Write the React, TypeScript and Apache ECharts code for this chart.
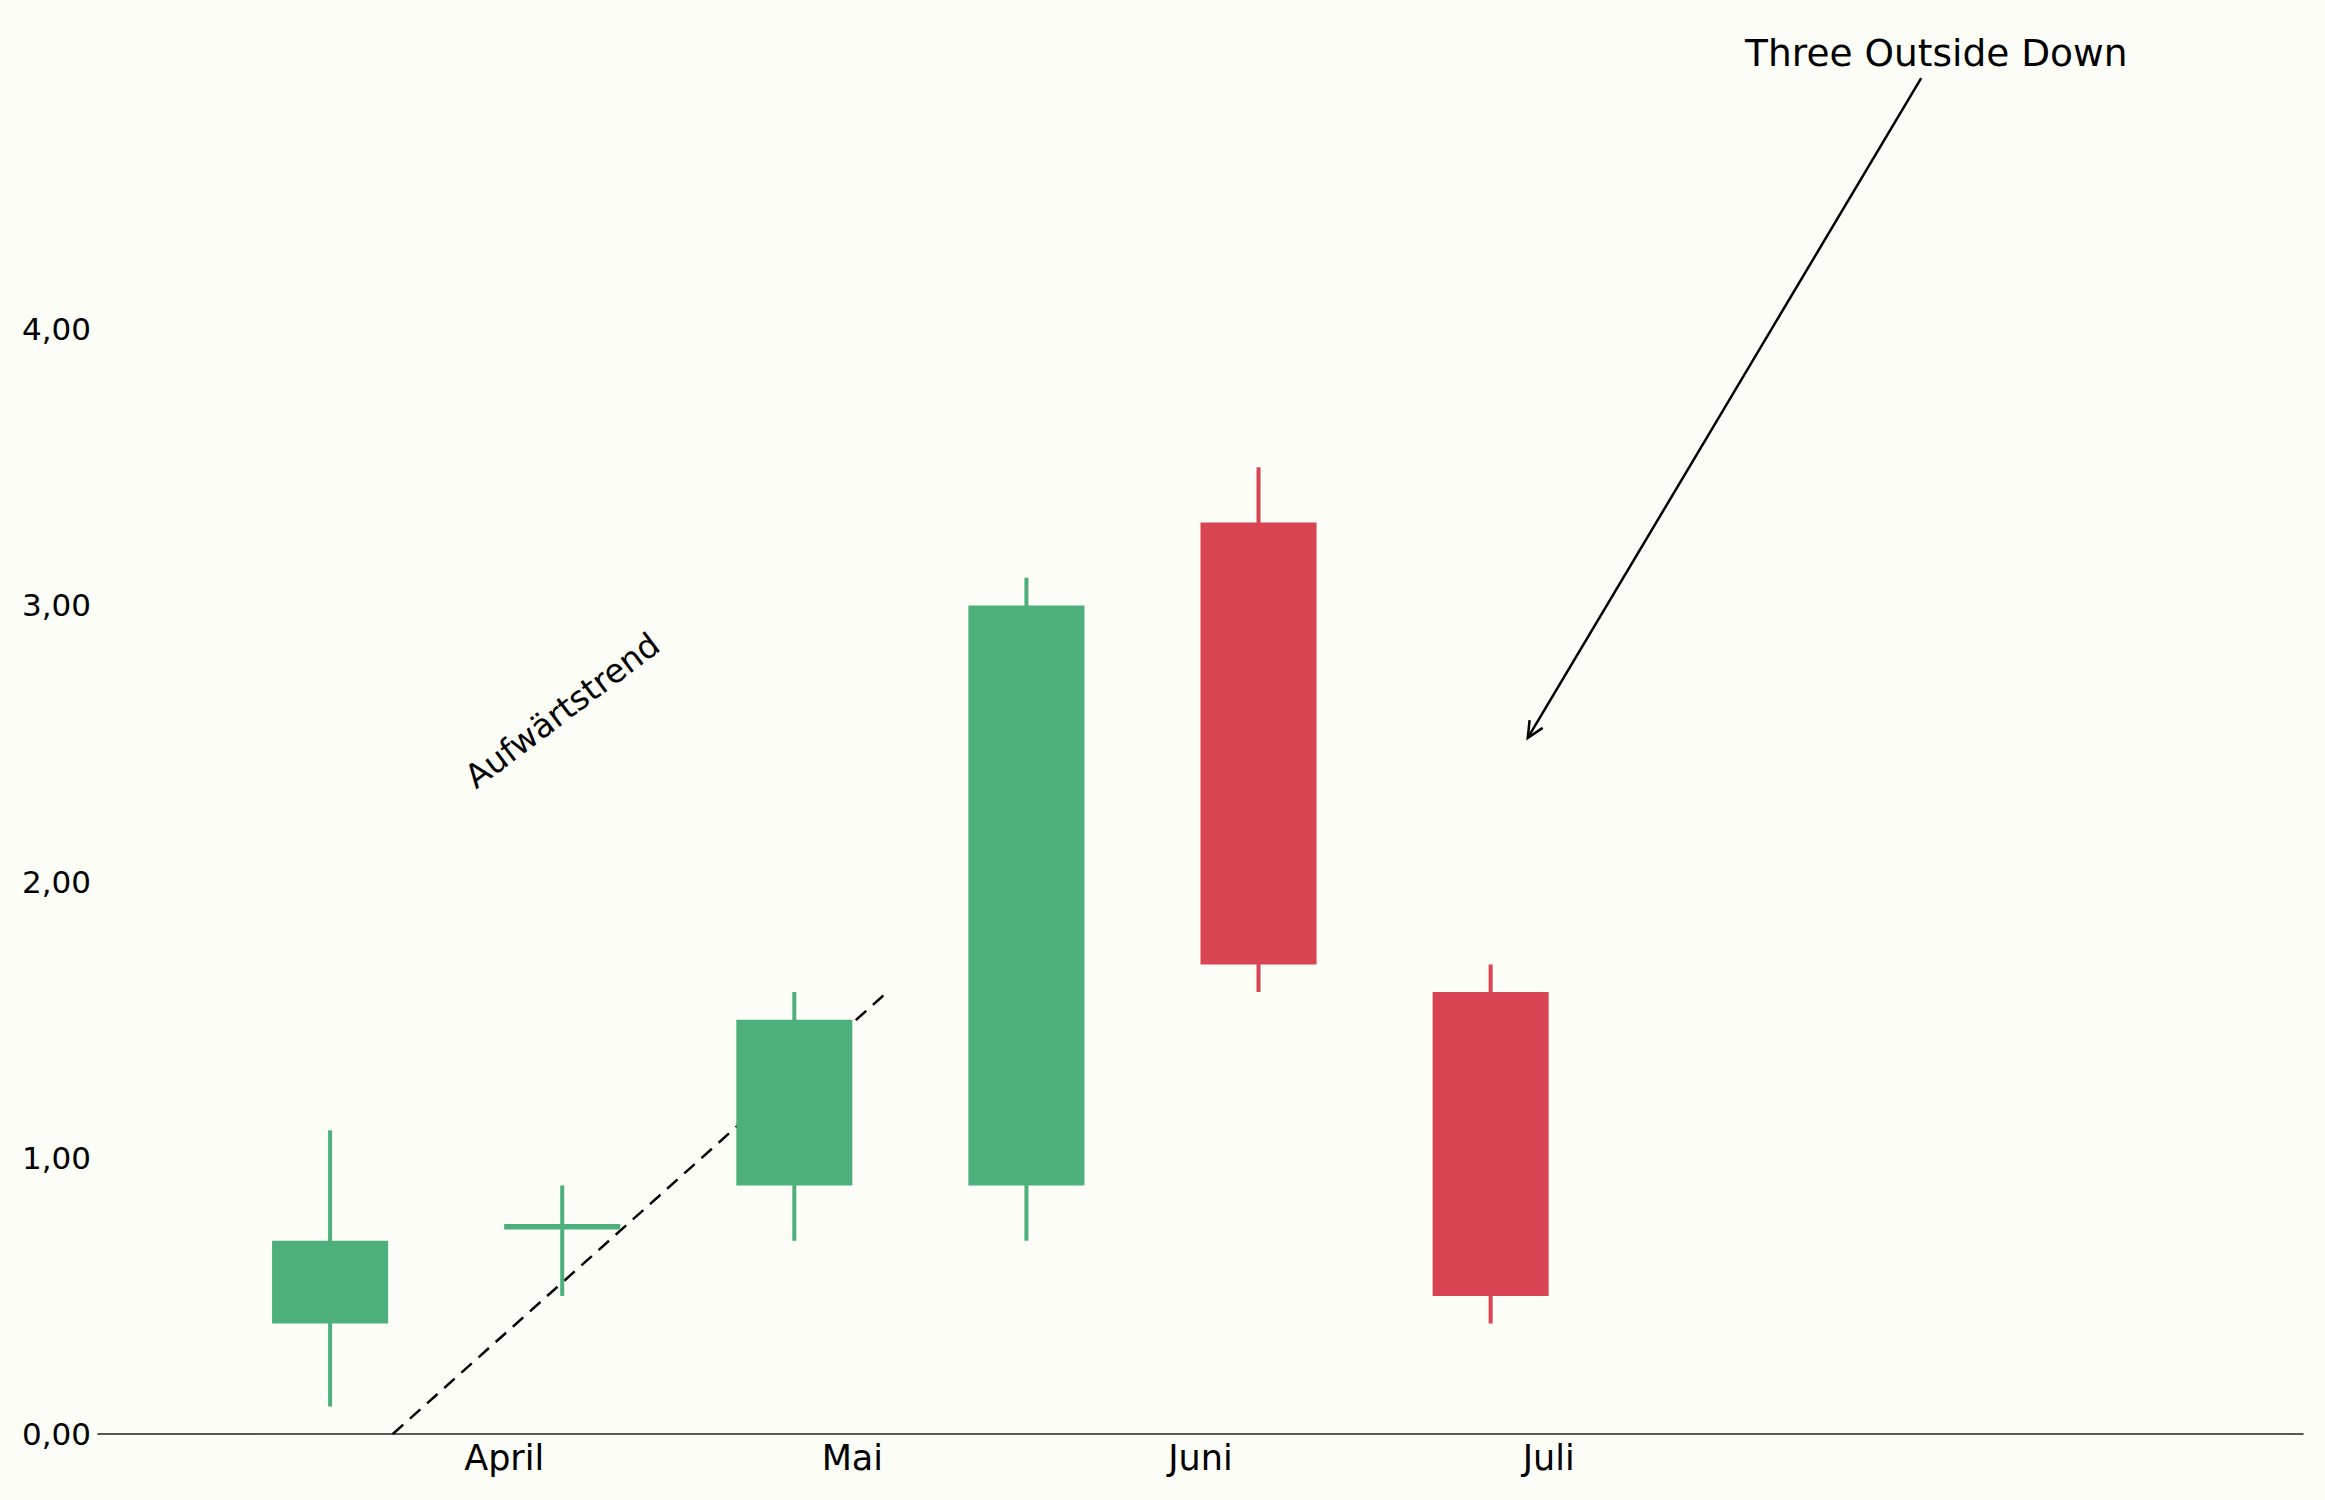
import { useEffect, useRef } from 'react';
import * as echarts from 'echarts';

// Kerzen (x-Position, Eröffnung, Schluss, Tief, Hoch)
const candleX = [0, 1, 2, 3, 4, 5];
const opens = [0.4, 0.74, 0.9, 0.9, 3.3, 1.6];
const closes = [0.7, 0.76, 1.5, 3.0, 1.7, 0.5];
const lows = [0.1, 0.5, 0.7, 0.7, 1.6, 0.4];
const highs = [1.1, 0.9, 1.6, 3.1, 3.5, 1.7];

// Monatsbeschriftung der x-Achse
const monthTicks = [0.75, 2.25, 3.75, 5.25];
const monthLabels = ['April', 'Mai', 'Juni', 'Juli'];

// y-Achse
const yTicks = [0, 1, 2, 3, 4];

// Trendlinie
const trendLineX = [0.27, 2.4];
const trendLineY = [0, 1.6];
const trendText = 'Aufwärtstrend';
const trendTextPos = [1.0, 2.62];
const trendTextAngle = 37;

// Annotation mit Pfeil
const noteText = 'Three Outside Down';
const notePos = [6.92, 5.0];
const arrowTail = [6.855, 4.909];
const arrowTip = [5.16, 2.52];

const GREEN = '#4daf7c';
const RED = '#d94452';
const BG = '#fdfdf8';
const FONT = 'DejaVu Sans';

const App = () => {
    const chartRef = useRef<HTMLDivElement>(null);

    useEffect(() => {
        if (!chartRef.current) return;
        document.body.style.margin = '0';
        const chart = echarts.init(chartRef.current, null, { renderer: 'svg' });

        const candleData = candleX.map((x, i) => [x, opens[i], closes[i], lows[i], highs[i]]);

        const option: echarts.EChartsOption = {
            animation: false,
            backgroundColor: BG,
            grid: { left: 98, right: 22, top: 53, bottom: 66 },
            xAxis: {
                type: 'value',
                min: -1,
                max: 8.5,
                splitLine: { show: false },
                axisTick: { show: false },
                axisLine: { show: true, lineStyle: { color: '#222', width: 1.6 } },
                axisLabel: {
                    customValues: monthTicks,
                    formatter: (v: number) => {
                        const i = monthTicks.findIndex(t => Math.abs(t - v) < 1e-6);
                        return i >= 0 ? monthLabels[i] : '';
                    },
                    fontSize: 35,
                    fontFamily: FONT,
                    color: '#000',
                    margin: 6
                }
            },
            yAxis: {
                type: 'value',
                min: 0,
                max: 5,
                interval: 1,
                splitLine: { show: false },
                axisTick: { show: false },
                axisLine: { show: false },
                axisLabel: {
                    customValues: yTicks,
                    formatter: (v: number) => v.toFixed(2).replace('.', ','),
                    fontSize: 31,
                    fontFamily: FONT,
                    color: '#000',
                    margin: 7
                }
            },
            series: [
                {
                    type: 'line',
                    data: trendLineX.map((x, i) => [x, trendLineY[i]]),
                    symbol: 'none',
                    silent: true,
                    z: 1,
                    lineStyle: { color: '#000', width: 2.5, type: [14, 9] }
                },
                {
                    type: 'custom',
                    z: 2,
                    clip: false,
                    data: candleData,
                    renderItem: (params: any, api: any) => {
                        const x = api.value(0);
                        const o = api.value(1);
                        const c = api.value(2);
                        const lo = api.value(3);
                        const hi = api.value(4);
                        const color = c >= o ? GREEN : RED;
                        const pHi = api.coord([x, hi]);
                        const pLo = api.coord([x, lo]);
                        const pTop = api.coord([x, Math.max(o, c)]);
                        const pBot = api.coord([x, Math.min(o, c)]);
                        const w = api.size([0.5, 0])[0];
                        return {
                            type: 'group',
                            children: [
                                {
                                    type: 'line',
                                    shape: { x1: pHi[0], y1: pHi[1], x2: pLo[0], y2: pLo[1] },
                                    style: { stroke: color, lineWidth: 4 }
                                },
                                {
                                    type: 'rect',
                                    shape: { x: pTop[0] - w / 2, y: pTop[1], width: w, height: pBot[1] - pTop[1] },
                                    style: { fill: color }
                                }
                            ]
                        };
                    }
                },
                {
                    type: 'custom',
                    z: 3,
                    clip: false,
                    silent: true,
                    data: [[0]],
                    renderItem: (params: any, api: any) => {
                        const tail = api.coord(arrowTail);
                        const tip = api.coord(arrowTip);
                        const ang = Math.atan2(tail[1] - tip[1], tail[0] - tip[0]);
                        const headLen = 18;
                        const spread = (25 * Math.PI) / 180;
                        const a1 = [tip[0] + headLen * Math.cos(ang + spread), tip[1] + headLen * Math.sin(ang + spread)];
                        const a2 = [tip[0] + headLen * Math.cos(ang - spread), tip[1] + headLen * Math.sin(ang - spread)];
                        const notePx = api.coord(notePos);
                        const trendPx = api.coord(trendTextPos);
                        return {
                            type: 'group',
                            children: [
                                {
                                    type: 'line',
                                    shape: { x1: tail[0], y1: tail[1], x2: tip[0], y2: tip[1] },
                                    style: { stroke: '#000', lineWidth: 2.5 }
                                },
                                {
                                    type: 'polyline',
                                    shape: { points: [a1, tip, a2] },
                                    style: { stroke: '#000', lineWidth: 2.5, fill: null }
                                },
                                {
                                    type: 'text',
                                    x: notePx[0],
                                    y: notePx[1],
                                    style: {
                                        text: noteText,
                                        fontSize: 37.5,
                                        fontFamily: FONT,
                                        fill: '#000',
                                        align: 'center',
                                        verticalAlign: 'middle'
                                    }
                                },
                                {
                                    type: 'text',
                                    x: trendPx[0],
                                    y: trendPx[1],
                                    rotation: (trendTextAngle * Math.PI) / 180,
                                    style: {
                                        text: trendText,
                                        fontSize: 33,
                                        fontFamily: FONT,
                                        fill: '#000',
                                        align: 'center',
                                        verticalAlign: 'middle'
                                    }
                                }
                            ]
                        };
                    }
                }
            ]
        };

        chart.setOption(option);

        return () => {
            chart.dispose();
        };
    }, []);

    return <div ref={chartRef} style={{ width: '2325px', height: '1500px', background: BG }} />;
};

export default App;
